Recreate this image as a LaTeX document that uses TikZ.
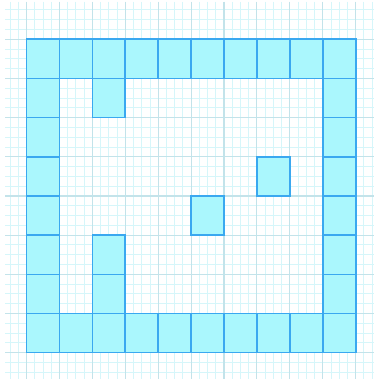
\documentclass[tikz,border=0pt]{standalone}
\usepackage{tikz}
\definecolor{minorgrid}{HTML}{D6F6FA}
\definecolor{majorgrid}{HTML}{C3E3EA}
\definecolor{cellfill}{HTML}{AAF7FD}
\definecolor{celledge}{HTML}{3AA8F0}
\tikzset{
  minorline/.style={draw=minorgrid, line width=0.9pt},
  majorline/.style={draw=majorgrid, line width=1.1pt},
  cellbox/.style={fill=cellfill, draw=celledge, line width=1.6pt, line join=miter}
}
\begin{document}
\begin{tikzpicture}[x=1pt,y=-1pt]
\useasboundingbox (0,0) rectangle (374,379);
\fill[white] (0,0) rectangle (374,379);
\def\xo{26.5}\def\yo{39.3}\def\cw{32.92}\def\ch{39.17}
% minor grid
\foreach \k in {-2,...,42}{
  \pgfmathsetmacro{\xx}{\xo+\k*\cw/4}
  \draw[minorline] (\xx,2) -- (\xx,379);
}
\foreach \k in {-3,...,34}{
  \pgfmathsetmacro{\yy}{\yo+\k*\ch/4}
  \draw[minorline] (5,\yy) -- (374,\yy);
}
% major grid
\foreach \k in {0,...,10}{
  \pgfmathsetmacro{\xx}{\xo+\k*\cw}
  \draw[majorline] (\xx,2) -- (\xx,379);
}
\foreach \k in {0,...,8}{
  \pgfmathsetmacro{\yy}{\yo+\k*\ch}
  \draw[majorline] (5,\yy) -- (374,\yy);
}
% cells
\foreach \c/\r in {0/0,1/0,2/0,3/0,4/0,5/0,6/0,7/0,8/0,9/0,
                   0/7,1/7,2/7,3/7,4/7,5/7,6/7,7/7,8/7,9/7,
                   0/1,0/2,0/3,0/4,0/5,0/6,
                   9/1,9/2,9/3,9/4,9/5,9/6,
                   2/1,7/3,5/4,2/5,2/6}{
  \pgfmathsetmacro{\xa}{\xo+\c*\cw}
  \pgfmathsetmacro{\ya}{\yo+\r*\ch}
  \pgfmathsetmacro{\xb}{\xa+\cw}
  \pgfmathsetmacro{\yb}{\ya+\ch}
  \draw[cellbox] (\xa,\ya) rectangle (\xb,\yb);
}
\end{tikzpicture}
\end{document}
